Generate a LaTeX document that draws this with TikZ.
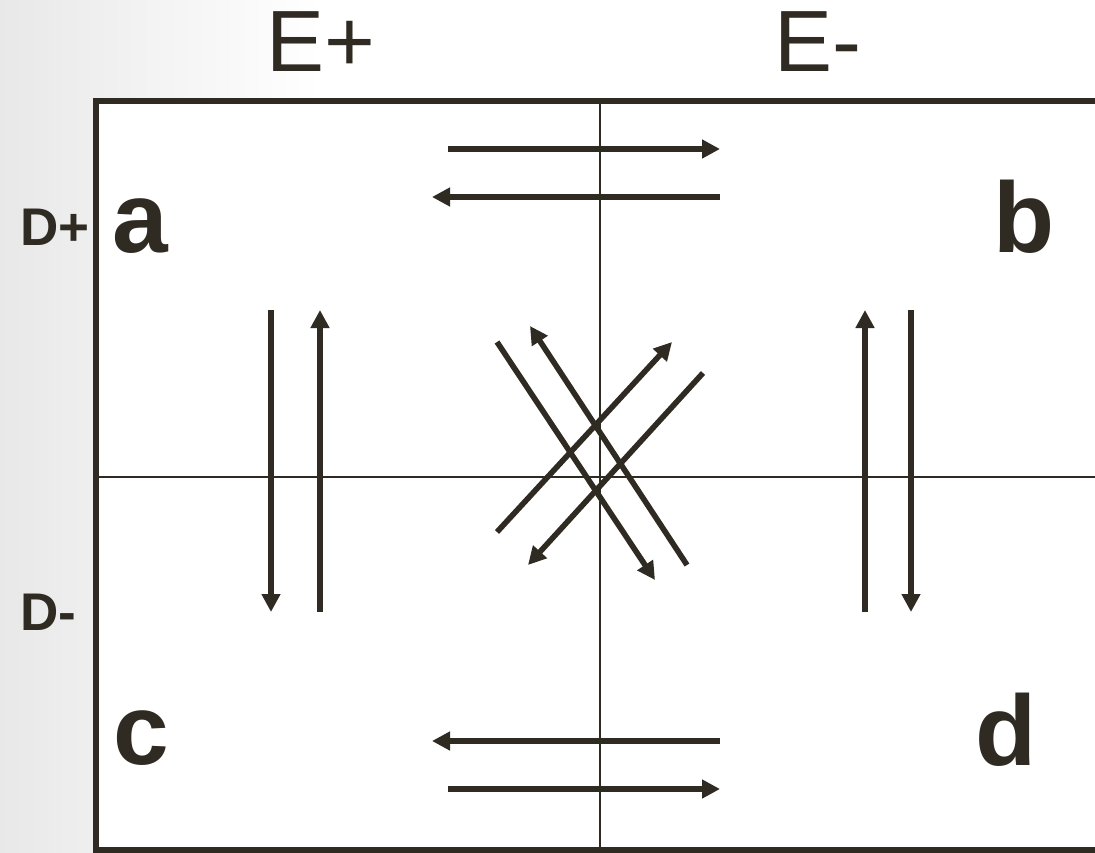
\documentclass[tikz,border=0pt]{standalone}
\usepackage{fontspec}
\setmainfont{Liberation Sans}
\usetikzlibrary{arrows.meta}
\definecolor{ink}{RGB}{47,43,34}
\begin{document}
\begin{tikzpicture}[x=1pt,y=-1pt,
  frame/.style={draw=ink,line width=6pt},
  midline/.style={draw=ink,line width=2pt},
  flow/.style={draw=ink,line width=5.6pt,-{Triangle[width=18pt,length=18pt]}},
  lab/.style={text=ink,inner sep=0pt,anchor=base west},
  biglab/.style={lab,font=\fontsize{100}{100}\selectfont\bfseries},
  axlab/.style={lab,font=\fontsize{87}{87}\selectfont},
  sidelab/.style={lab,font=\fontsize{53}{53}\selectfont\bfseries}]
\useasboundingbox (0,0) rectangle (1095,853);
\shade[left color=black!9,right color=white] (0,0) rectangle (320,853);
\fill[white] (96,101) rectangle (1095,850);
% frame
\draw[frame] (1095,101) -- (96,101) -- (96,850) -- (1095,850);
\draw[midline] (600,101) -- (600,850);
\draw[midline] (96,477) -- (1095,477);
% labels
\node[axlab] (ep) at (266,72) {E+};
\node[axlab] (em) at (774,72) {E-};
\node[sidelab] (dp) at (20,245) {D+};
\node[sidelab] (dm) at (20,630) {D-};
\node[biglab] (a) at (112,253) {a};
\node[biglab] (b) at (993,253) {b};
\node[biglab] (c) at (113,764) {c};
\node[biglab] (d) at (975,765) {d};
% coordinates
\coordinate (t1s) at (448,149); \coordinate (t1e) at (720,149);
\coordinate (t2s) at (720,197); \coordinate (t2e) at (432,197);
\coordinate (b1s) at (720,741); \coordinate (b1e) at (432,741);
\coordinate (b2s) at (448,789); \coordinate (b2e) at (720,789);
\coordinate (l1s) at (271,310); \coordinate (l1e) at (271,612);
\coordinate (l2s) at (320,612); \coordinate (l2e) at (320,310);
\coordinate (r1s) at (865,612); \coordinate (r1e) at (865,310);
\coordinate (r2s) at (911,310); \coordinate (r2e) at (911,612);
\coordinate (d1s) at (497,342); \coordinate (d1e) at (655,580);
\coordinate (d2s) at (687,565); \coordinate (d2e) at (530,326);
\coordinate (d3s) at (497,532); \coordinate (d3e) at (672,342);
\coordinate (d4s) at (703,373); \coordinate (d4e) at (528,565);
% arrows
\draw[flow] (t1s) -- (t1e);
\draw[flow] (t2s) -- (t2e);
\draw[flow] (b1s) -- (b1e);
\draw[flow] (b2s) -- (b2e);
\draw[flow] (l1s) -- (l1e);
\draw[flow] (l2s) -- (l2e);
\draw[flow] (r1s) -- (r1e);
\draw[flow] (r2s) -- (r2e);
\draw[flow] (d1s) -- (d1e);
\draw[flow] (d2s) -- (d2e);
\draw[flow] (d3s) -- (d3e);
\draw[flow] (d4s) -- (d4e);
\end{tikzpicture}
\end{document}
